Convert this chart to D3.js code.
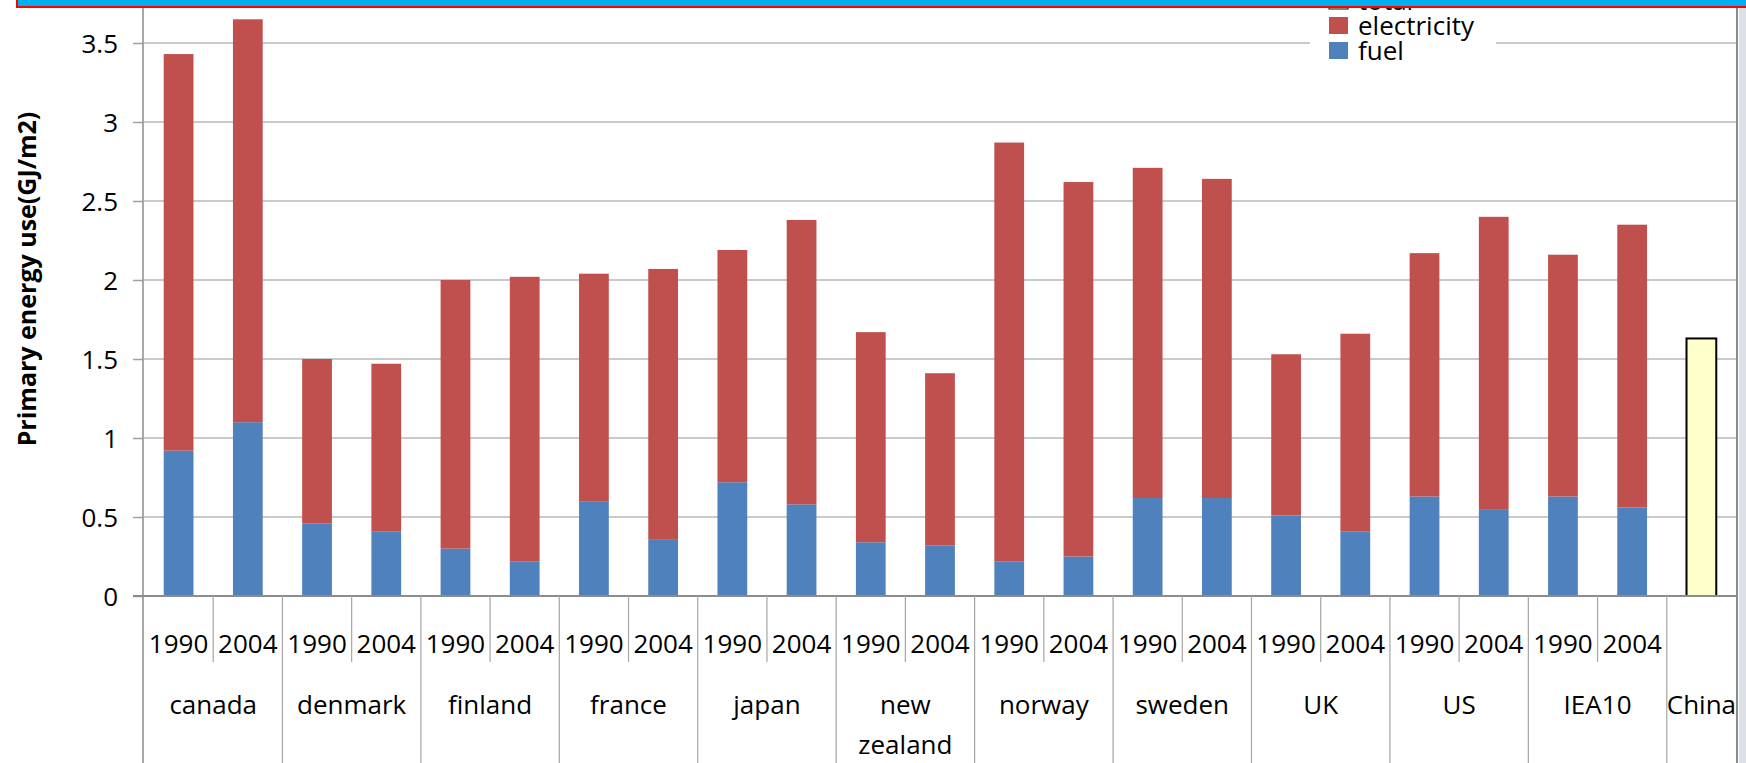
<!DOCTYPE html>
<html>
<head>
<meta charset="utf-8">
<script src="https://cdn.jsdelivr.net/npm/d3@7"></script>
<style>
  html, body { margin: 0; padding: 0; background: #fff; overflow: hidden; }
  svg { display: block; font-family: "Open Sans", sans-serif; }
</style>
</head>
<body>
<script>
// Primary energy use per floor area, by country and year (GJ/m2)
const groups = ["canada", "denmark", "finland", "france", "japan", "new zealand",
                "norway", "sweden", "UK", "US", "IEA10"];
const years = ["1990", "2004"];
// one value per group/year, in the order canada 1990, canada 2004, denmark 1990, ...
const fuel = [0.92, 1.10, 0.46, 0.41, 0.30, 0.22, 0.60, 0.36, 0.72, 0.58, 0.34, 0.32,
              0.22, 0.25, 0.62, 0.62, 0.51, 0.41, 0.63, 0.55, 0.63, 0.56];
const electricity = [2.51, 2.55, 1.04, 1.06, 1.70, 1.80, 1.44, 1.71, 1.47, 1.80, 1.33, 1.09,
                     2.65, 2.37, 2.09, 2.02, 1.02, 1.25, 1.54, 1.85, 1.53, 1.79];
const chinaLabel = "China";
const chinaTotal = 1.63;
const yMax = 4;
const yTicks = [0, 0.5, 1, 1.5, 2, 2.5, 3, 3.5];
const legendItems = ["total", "electricity", "fuel"];

const W = 1746, H = 763;
const colors = { fuel: "#4F81BD", electricity: "#C0504D", total: "#FFFFCC" };
const FONT = 26;

const svg = d3.select("body").append("svg").attr("width", W).attr("height", H);

// one slot per group/year, plus a single slot for China
const slots = groups.flatMap(g => years.map(yr => g + "|" + yr)).concat([chinaLabel]);
const rows = groups.flatMap((g, gi) => years.map((yr, yi) => {
  const i = gi * years.length + yi;
  return { key: g + "|" + yr, fuel: fuel[i], electricity: electricity[i] };
}));

const xLeft = 144, xRight = 1736, plotRight = 1737;
const x = d3.scaleBand().domain(slots).range([xLeft, xRight])
  .paddingInner(0.57).paddingOuter(0.285);
const y = d3.scaleLinear().domain([0, yMax]).range([596, -36]);
const step = x.step();
const slotStart = k => xLeft + k * step;

// horizontal gridlines
svg.append("g").selectAll("line").data(yTicks.filter(d => d > 0).concat([yMax])).join("line")
  .attr("x1", xLeft).attr("x2", plotRight)
  .attr("y1", d => y(d)).attr("y2", d => y(d))
  .attr("stroke", "#b8b8b8").attr("stroke-width", 1.5);

// stacked bars
const stacked = d3.stack().keys(["fuel", "electricity"])(rows);
svg.append("g").selectAll("g").data(stacked).join("g")
  .attr("fill", s => colors[s.key])
  .selectAll("rect").data(s => s).join("rect")
  .attr("x", d => x(d.data.key))
  .attr("width", x.bandwidth())
  .attr("y", d => y(d[1]))
  .attr("height", d => y(d[0]) - y(d[1]));

// China total bar
svg.append("rect")
  .attr("x", x(chinaLabel)).attr("width", x.bandwidth())
  .attr("y", y(chinaTotal)).attr("height", y(0) - y(chinaTotal))
  .attr("fill", colors.total).attr("stroke", "#000").attr("stroke-width", 2);

// value axis
const yAxis = svg.append("g").attr("transform", `translate(${xLeft - 1},0)`)
  .call(d3.axisLeft(y).tickValues(yTicks).tickSize(10).tickSizeOuter(0)
    .tickPadding(15).tickFormat(d3.format("")));
yAxis.select(".domain").remove();
yAxis.selectAll(".tick line").attr("stroke", "#a0a0a0").attr("stroke-width", 1.5);
yAxis.selectAll(".tick text").attr("font-size", FONT).attr("font-family", "Open Sans")
  .attr("fill", "#000").attr("dy", "0.36em");

svg.append("line").attr("x1", xLeft - 1).attr("x2", xLeft - 1).attr("y1", y(yMax)).attr("y2", H)
  .attr("stroke", "#8c8c8c").attr("stroke-width", 1.5);

// category axis: baseline, slot separators and two label rows
svg.append("line").attr("x1", xLeft - 11).attr("x2", plotRight).attr("y1", y(0)).attr("y2", y(0))
  .attr("stroke", "#8c8c8c").attr("stroke-width", 2);

const bounds = d3.range(1, slots.length);
svg.append("g").selectAll("line").data(bounds).join("line")
  .attr("x1", k => slotStart(k)).attr("x2", k => slotStart(k))
  .attr("y1", y(0))
  .attr("y2", k => (k % 2 === 0 ? H : 662))
  .attr("stroke", "#a6a6a6").attr("stroke-width", 1.2);

svg.append("g").selectAll("text").data(rows).join("text")
  .attr("x", d => x(d.key) + x.bandwidth() / 2)
  .attr("y", 653)
  .attr("text-anchor", "middle").attr("font-size", FONT).attr("fill", "#000")
  .text(d => d.key.split("|")[1]);

const groupLabels = groups.map((g, gi) => ({ name: g, cx: slotStart(gi * 2 + 1) }))
  .concat([{ name: chinaLabel, cx: x(chinaLabel) + x.bandwidth() / 2 }]);
const gl = svg.append("g").selectAll("text").data(groupLabels).join("text")
  .attr("x", d => d.cx).attr("y", 714)
  .attr("text-anchor", "middle").attr("font-size", FONT).attr("fill", "#000");
gl.each(function (d) {
  const words = d.name.split(" ");
  d3.select(this).selectAll("tspan").data(words).join("tspan")
    .attr("x", d.cx).attr("dy", (w, i) => (i === 0 ? 0 : 40)).text(w => w);
});

// value axis title
svg.append("text")
  .attr("transform", "translate(36,279) rotate(-90)")
  .attr("text-anchor", "middle").attr("font-size", 25).attr("font-weight", "bold")
  .attr("fill", "#000").text("Primary energy use(GJ/m2)");

// legend
const lg = svg.append("g");
lg.append("rect").attr("x", 1310).attr("y", -20).attr("width", 186).attr("height", 88).attr("fill", "#fff");
legendItems.forEach((name, i) => {
  const base = 10 + i * 25;
  lg.append("rect").attr("x", 1329).attr("y", base - 18).attr("width", 19).attr("height", 17)
    .attr("fill", colors[name]).attr("stroke", name === "total" ? "#000" : "none");
  lg.append("text").attr("x", 1358).attr("y", base).attr("font-size", FONT)
    .attr("fill", "#000").text(name);
});

// right border and frame strip
svg.append("rect").attr("x", 1739).attr("y", 0).attr("width", W - 1739).attr("height", H)
  .attr("fill", "#dce1e8");
svg.append("line").attr("x1", plotRight).attr("x2", plotRight).attr("y1", 0).attr("y2", H)
  .attr("stroke", "#8a8a8a").attr("stroke-width", 2);

// title banner across the top
svg.append("rect").attr("x", 17).attr("y", -20).attr("width", W + 40).attr("height", 27)
  .attr("fill", "#00B0F0").attr("stroke", "#FF0000").attr("stroke-width", 2);
</script>
</body>
</html>
